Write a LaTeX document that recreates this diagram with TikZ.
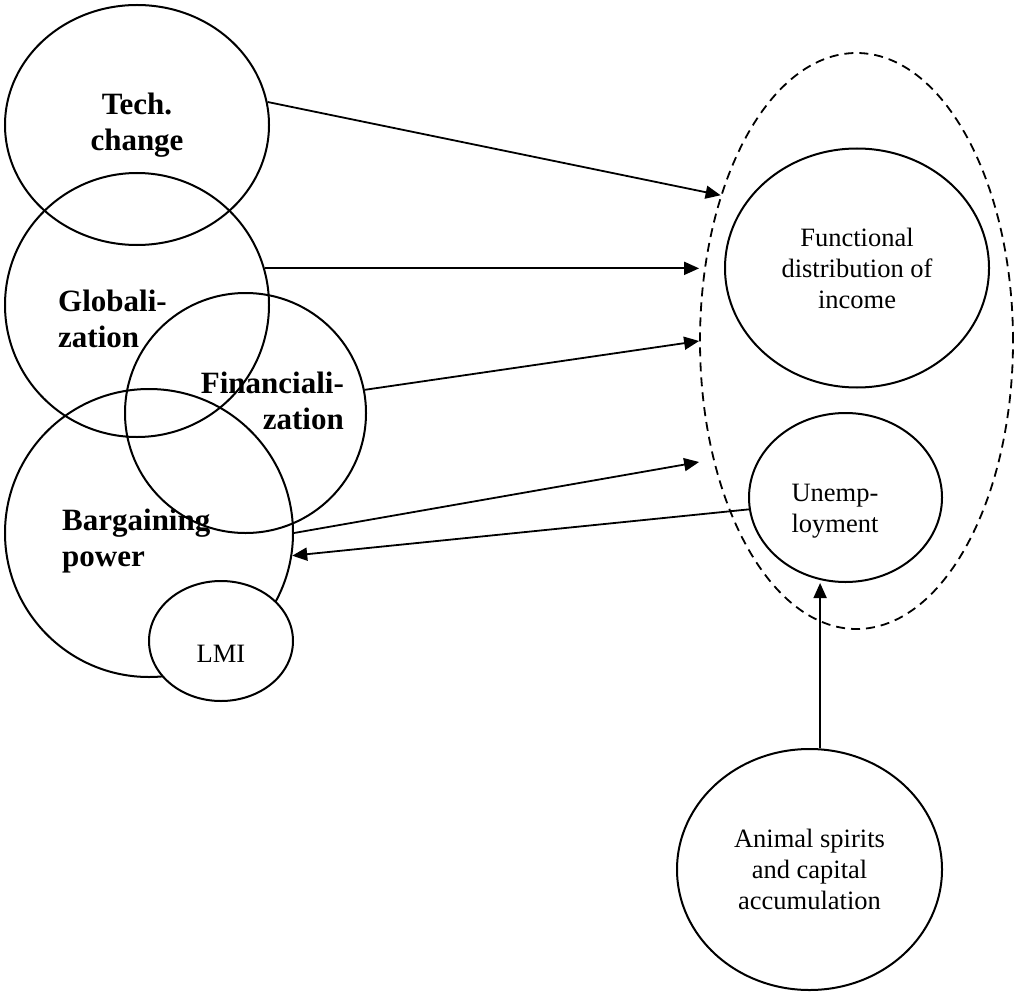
\documentclass[tikz,border=0pt]{standalone}
\usepackage{fontspec}
\setmainfont{Liberation Serif}
\usepackage{tikz}
\tikzset{bubble/.style={ellipse,draw,line width=2pt,inner sep=0pt,align=center},
 headtxt/.style={font=\fontsize{31}{36}\selectfont\bfseries,inner sep=0pt},
 bodytxt/.style={font=\fontsize{26.5}{31}\selectfont,inner sep=0pt,align=center},
 zone/.style={ellipse,draw,line width=1.8pt,dash pattern=on 9pt off 6pt,
   minimum width=313pt,minimum height=576pt},
 conn/.style={line width=1.8pt,-{Triangle[length=15pt,width=13pt]}},
 }
\usetikzlibrary{shapes}
\usetikzlibrary{arrows.meta}

\begin{document}
\begin{tikzpicture}[x=1pt,y=-1pt]
    \useasboundingbox (0,0) rectangle (1016,992);
    \node[bubble,headtxt,minimum width=264pt,minimum height=240pt] (tech) at (137,125) {Tech.\\change};
    \node[bubble,minimum width=264pt,minimum height=264pt] (glob) at (137,305) {};
    \node[bubble,minimum width=241pt,minimum height=240pt] (fin) at (245.5,413) {};
    \node[bubble,minimum width=288pt,minimum height=288pt] (barg) at (149,533) {};
    \node[bubble,fill=white,minimum width=144pt,minimum height=120pt] (lmi) at (221,641) {};
    \node[headtxt,anchor=west,align=left] (globtxt) at (58,318.5) {Globali-\\zation};
    \node[headtxt,anchor=east,align=right] (fintxt) at (344,401) {Financiali-\\zation};
    \node[headtxt,anchor=west,align=left] (bargtxt) at (62,541.5) {Bargaining\\power};
    \node[bodytxt] (lmitxt) at (221,653.5) {LMI};

    \node[zone] (zone) at (856.5,341) {};
    \node[bubble,bodytxt,minimum width=264pt,minimum height=239pt] (func) at (857,268) {Functional\\distribution of\\income};
    \node[bubble,minimum width=193pt,minimum height=169pt] (unemp) at (845.5,497.5) {};
    \node[bodytxt] (unemptxt) at (835,511) {Unemp-\\loyment};
    \node[bubble,bodytxt,minimum width=265pt,minimum height=241pt] (animal) at (809.5,869.5) {Animal spirits\\and capital\\accumulation};

    \draw[conn] (tech.10) -- (zone.133);
    \draw[conn] (glob.16) -- (glob.16 -| zone.west);
    \draw[conn] (fin.11) -- (zone.west);
    \draw[conn] (barg.east) -- ([yshift=-121pt]zone.west);
    \draw[conn] (unemp.187) -- (barg.351);
    \draw[conn] (animal.85) -- (animal.85 |- unemp.south);
\end{tikzpicture}
\end{document}
